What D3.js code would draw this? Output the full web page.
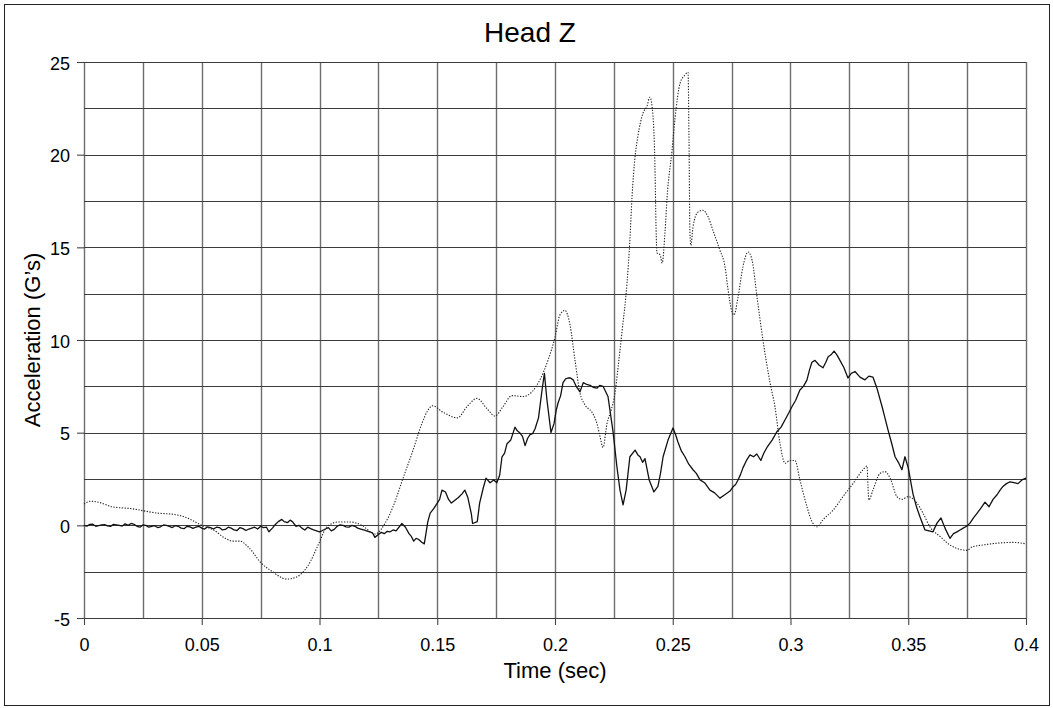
<!DOCTYPE html>
<html>
<head>
<meta charset="utf-8">
<script src="https://cdn.jsdelivr.net/npm/d3@7"></script>
<style>
  html, body { margin: 0; padding: 0; background: #fff; }
  svg { display: block; }
  text { font-family: "Liberation Sans", Arial, Helvetica, sans-serif; fill: #000; }
</style>
</head>
<body>
<svg id="chart" width="1053" height="708"></svg>
<script>
// ---------------- data ----------------
const chartTitle = "Head Z";
const xAxisTitle = "Time (sec)";
const yAxisTitle = "Acceleration (G\u2019s)";

const xTickValues = [0, 0.05, 0.1, 0.15, 0.2, 0.25, 0.3, 0.35, 0.4];
const xTickLabels = ["0", "0.05", "0.1", "0.15", "0.2", "0.25", "0.3", "0.35", "0.4"];
const yTickValues = [-5, 0, 5, 10, 15, 20, 25];
const yTickLabels = ["-5", "0", "5", "10", "15", "20", "25"];
const xGridValues = [0, 0.025, 0.05, 0.075, 0.1, 0.125, 0.15, 0.175, 0.2, 0.225, 0.25, 0.275, 0.3, 0.325, 0.35, 0.375, 0.4];
const yGridValues = [-5, -2.5, 0, 2.5, 5, 7.5, 10, 12.5, 15, 17.5, 20, 22.5, 25];

// solid trace: [time (s), acceleration (G)]
const solidSeries = [
  [0,0.0],[0.00125,-0.04],[0.0025,0.05],[0.00375,0.06],[0.005,-0.05],[0.00625,-0.02],[0.0075,0.02],[0.00875,0.04],
  [0.01,-0.03],[0.01125,-0.06],[0.0125,0.05],[0.01375,0.03],[0.015,0.0],[0.01625,-0.04],[0.0175,0.08],[0.01875,0.0],
  [0.02,0.1],[0.02125,0.05],[0.0225,-0.05],[0.02375,-0.1],[0.025,0.02],[0.02625,0.0],[0.0275,-0.1],[0.02875,-0.05],
  [0.03,-0.02],[0.03125,-0.12],[0.0325,-0.08],[0.03375,0.02],[0.035,0.0],[0.03625,-0.06],[0.0375,-0.12],[0.03875,-0.02],
  [0.04,-0.05],[0.04125,-0.15],[0.0425,-0.18],[0.04375,-0.05],[0.045,-0.08],[0.04625,-0.16],[0.0475,-0.1],[0.04875,-0.05],
  [0.05,-0.15],[0.05125,-0.2],[0.0525,-0.08],[0.05375,-0.12],[0.055,-0.2],[0.05625,-0.1],[0.0575,-0.12],[0.05875,-0.25],
  [0.06,-0.22],[0.06125,-0.1],[0.0625,-0.15],[0.06375,-0.25],[0.065,-0.28],[0.06625,-0.12],[0.0675,-0.18],[0.06875,-0.28],
  [0.07,-0.2],[0.07125,-0.15],[0.0725,-0.1],[0.07375,-0.2],[0.075,-0.05],[0.07625,-0.12],[0.0775,-0.1],[0.0785,-0.35],
  [0.08,-0.15],[0.08125,0.05],[0.0825,0.2],[0.084,0.32],[0.085,0.2],[0.0865,0.15],[0.0875,0.28],[0.0885,0.2],
  [0.09,-0.05],[0.09125,0.0],[0.0925,-0.15],[0.09375,-0.25],[0.095,-0.1],[0.09625,-0.18],[0.0975,-0.25],[0.09875,-0.3],
  [0.1,-0.35],[0.10125,-0.28],[0.1025,-0.2],[0.10375,-0.12],[0.105,-0.3],[0.10625,-0.22],[0.1075,-0.05],[0.10875,0.02],
  [0.11,0.0],[0.11125,-0.08],[0.1125,-0.1],[0.11375,0.0],[0.115,-0.05],[0.11625,-0.15],[0.1175,-0.2],[0.11875,-0.25],
  [0.12,-0.3],[0.12125,-0.35],[0.1225,-0.4],[0.1235,-0.65],[0.125,-0.5],[0.12625,-0.38],[0.1275,-0.45],[0.12875,-0.32],
  [0.13,-0.35],[0.13125,-0.25],[0.1325,-0.3],[0.135,0.1],[0.1365,-0.1],[0.138,-0.45],[0.139,-0.6],[0.14,-0.85],
  [0.141,-0.7],[0.142,-0.75],[0.1433,-0.9],[0.1445,-1.0],[0.146,0.2],[0.147,0.66],[0.1485,0.9],[0.15,1.2],
  [0.151,1.4],[0.152,1.9],[0.1535,1.8],[0.1548,1.4],[0.156,1.2],[0.1575,1.35],[0.159,1.5],[0.1605,1.7],
  [0.1617,1.9],[0.163,1.5],[0.1645,0.6],[0.165,0.1],[0.167,0.2],[0.168,1.2],[0.1695,2.0],[0.1707,2.55],
  [0.1724,2.3],[0.174,2.45],[0.1753,2.3],[0.1765,2.7],[0.1775,3.7],[0.1786,3.9],[0.1796,4.4],[0.1812,4.6],
  [0.183,5.3],[0.184,5.1],[0.185,5.0],[0.1862,4.8],[0.1873,4.3],[0.1884,4.7],[0.1894,4.9],[0.1905,4.95],
  [0.1915,5.2],[0.193,5.8],[0.1945,7.3],[0.1955,8.2],[0.1966,6.75],[0.1983,5.0],[0.1996,5.5],[0.2005,6.2],
  [0.2013,6.6],[0.2024,7.0],[0.2034,7.7],[0.2045,7.9],[0.2055,7.95],[0.2066,7.95],[0.2077,7.85],[0.209,7.5],
  [0.2106,7.2],[0.212,7.7],[0.2135,7.6],[0.2149,7.55],[0.2162,7.45],[0.2178,7.4],[0.219,7.55],[0.2204,7.5],
  [0.2225,6.95],[0.2246,5.1],[0.2263,3.15],[0.2276,1.9],[0.2289,1.1],[0.2302,1.9],[0.2318,3.7],[0.234,4.06],
  [0.2352,3.8],[0.2361,3.7],[0.2372,3.4],[0.2382,3.6],[0.24,2.45],[0.242,1.8],[0.2437,2.1],[0.2448,2.8],
  [0.2459,3.7],[0.248,4.6],[0.2501,5.25],[0.2512,4.9],[0.2522,4.5],[0.2537,4.0],[0.2552,3.7],[0.2568,3.3],
  [0.2586,3.0],[0.26,2.8],[0.2616,2.45],[0.2635,2.3],[0.2658,1.9],[0.2678,1.75],[0.27,1.47],[0.2715,1.6],
  [0.273,1.73],[0.2743,1.85],[0.2756,2.08],[0.2767,2.2],[0.2777,2.45],[0.2788,2.75],[0.2798,3.1],[0.2813,3.5],
  [0.2828,3.8],[0.2843,3.7],[0.2857,3.85],[0.2874,3.5],[0.2887,3.9],[0.29,4.2],[0.2922,4.6],[0.2942,5.05],
  [0.296,5.3],[0.2977,5.7],[0.2992,6.05],[0.3006,6.4],[0.3022,6.75],[0.304,7.3],[0.3055,7.5],[0.307,7.85],
  [0.3081,8.4],[0.3091,8.8],[0.3104,8.9],[0.3121,8.65],[0.3138,8.5],[0.315,8.8],[0.316,9.1],[0.3172,9.2],
  [0.3185,9.4],[0.3197,9.2],[0.321,8.9],[0.3227,8.5],[0.3244,7.95],[0.3258,8.2],[0.3274,8.3],[0.3295,8.0],
  [0.3316,7.85],[0.3333,8.05],[0.335,8.0],[0.3367,7.4],[0.3389,6.4],[0.3401,5.8],[0.3414,5.15],[0.343,4.4],
  [0.3444,3.7],[0.3458,3.4],[0.3473,3.0],[0.3486,3.7],[0.35,3.1],[0.352,1.7],[0.3535,1.0],[0.355,0.45],
  [0.3571,-0.25],[0.3588,-0.3],[0.3605,-0.35],[0.3622,0.12],[0.3639,0.4],[0.3656,-0.15],[0.3677,-0.7],[0.3692,-0.45],
  [0.3707,-0.35],[0.372,-0.25],[0.3733,-0.15],[0.3748,-0.05],[0.3762,0.12],[0.3777,0.4],[0.3792,0.65],[0.381,0.95],
  [0.3826,1.25],[0.3843,1.0],[0.386,1.4],[0.3877,1.65],[0.389,1.9],[0.3902,2.1],[0.3917,2.25],[0.3932,2.35],
  [0.3949,2.3],[0.3966,2.25],[0.3983,2.45],[0.4,2.55]
];

// dotted trace: [time (s), acceleration (G)]
const dottedSeries = [
  [0,1.15],[0.003,1.3],[0.006,1.25],[0.012,1.0],[0.02,0.9],[0.03,0.68],[0.04,0.55],[0.045,0.33],
  [0.05,0.0],[0.055,-0.25],[0.06,-0.7],[0.063,-0.85],[0.066,-0.85],[0.07,-1.2],[0.075,-2.0],[0.08,-2.5],
  [0.086,-2.9],[0.09,-2.8],[0.095,-2.2],[0.1,-0.9],[0.103,-0.1],[0.108,0.18],[0.113,0.18],[0.118,0.0],
  [0.1236,-0.47],[0.1278,0.1],[0.1312,1.0],[0.1355,2.55],[0.1397,4.05],[0.1435,5.5],[0.146,6.2],[0.148,6.45],
  [0.1525,6.1],[0.1586,5.8],[0.1626,6.4],[0.1669,6.85],[0.1711,6.3],[0.1745,5.9],[0.1779,6.4],[0.1817,7.0],
  [0.1864,6.95],[0.1902,7.2],[0.1936,7.85],[0.197,8.9],[0.2,10.15],[0.2021,11.35],[0.2042,11.6],[0.2064,10.8],
  [0.2085,8.9],[0.2106,7.15],[0.2127,6.5],[0.2157,6.1],[0.2178,5.5],[0.2191,4.8],[0.2204,4.2],[0.2221,5.5],
  [0.2238,6.2],[0.2255,7.15],[0.2268,8.55],[0.2285,10.5],[0.2306,13.1],[0.2318,15.4],[0.2327,17.7],[0.234,19.9],
  [0.2352,21.0],[0.2374,22.25],[0.239,22.6],[0.2403,23.1],[0.2416,22.1],[0.2425,19.0],[0.2429,16.1],[0.2433,14.7],
  [0.2446,14.6],[0.2455,14.15],[0.2467,15.8],[0.2476,17.7],[0.2497,20.25],[0.251,22.0],[0.2531,23.85],[0.2552,24.3],
  [0.2565,24.45],[0.2569,20.8],[0.2573,15.8],[0.2577,15.1],[0.2586,16.1],[0.2607,16.9],[0.2628,17.0],[0.265,16.65],
  [0.2671,15.9],[0.27,14.85],[0.2722,13.95],[0.2735,12.7],[0.2752,11.5],[0.276,11.35],[0.2777,12.3],[0.2798,13.95],
  [0.282,14.75],[0.2837,14.3],[0.2858,12.3],[0.2883,10.0],[0.2913,7.7],[0.2934,6.4],[0.2955,4.45],[0.2977,3.35],
  [0.2998,3.5],[0.3019,3.5],[0.304,2.45],[0.307,1.0],[0.3091,0.2],[0.3113,-0.08],[0.3138,0.3],[0.3181,0.82],
  [0.3223,1.55],[0.3265,2.25],[0.3308,3.0],[0.3325,3.2],[0.3329,2.1],[0.3333,1.37],[0.335,1.9],[0.338,2.8],
  [0.3401,2.9],[0.3423,2.55],[0.3452,1.55],[0.3473,1.4],[0.35,1.55],[0.3537,1.2],[0.3563,0.65],[0.3592,-0.08],
  [0.3635,-0.6],[0.3677,-1.06],[0.372,-1.3],[0.375,-1.35],[0.3771,-1.17],[0.3818,-1.06],[0.389,-0.95],[0.3945,-0.92],
  [0.4,-1.0]
];

// ---------------- layout ----------------
const plot = { left: 84, right: 1026, top: 62, bottom: 618 };

const svg = d3.select("#chart");

// outer frame
svg.append("rect")
  .attr("x", 4.5).attr("y", 4.5)
  .attr("width", 1045).attr("height", 701)
  .attr("fill", "#fff").attr("stroke", "#222").attr("stroke-width", 1);

const x = d3.scaleLinear().domain([0, 0.4]).range([plot.left, plot.right]);
const y = d3.scaleLinear().domain([-5, 25]).range([plot.bottom, plot.top]);

// grid
const grid = svg.append("g");
grid.selectAll("line.v").data(xGridValues).enter().append("line")
  .attr("class", "v")
  .attr("x1", d => Math.round(x(d)) + 0.5).attr("x2", d => Math.round(x(d)) + 0.5)
  .attr("y1", plot.top).attr("y2", plot.bottom)
  .attr("stroke", "#6e6e6e").attr("stroke-width", 1.4);
grid.selectAll("line.h").data(yGridValues).enter().append("line")
  .attr("class", "h")
  .attr("x1", plot.left).attr("x2", plot.right)
  .attr("y1", d => Math.round(y(d)) + 0.5).attr("y2", d => Math.round(y(d)) + 0.5)
  .attr("stroke", "#3c3c3c").attr("stroke-width", 1.1);

// axes
const xAxis = d3.axisBottom(x)
  .tickValues(xTickValues)
  .tickFormat((d, i) => xTickLabels[i])
  .tickSize(7).tickPadding(13);
const gx = svg.append("g").attr("transform", `translate(0,${plot.bottom})`).call(xAxis);
gx.select(".domain").remove();
gx.selectAll(".tick line").attr("stroke", "#444").attr("stroke-width", 1.1);
gx.selectAll(".tick text").style("font-size", "18px").style("font-family", "'Liberation Sans', Arial, sans-serif").attr("fill", "#000");

const yAxis = d3.axisLeft(y)
  .tickValues(yTickValues)
  .tickFormat((d, i) => yTickLabels[i])
  .tickSize(7).tickPadding(7);
const gy = svg.append("g").attr("transform", `translate(${plot.left},0)`).call(yAxis);
gy.select(".domain").remove();
gy.selectAll(".tick line").attr("stroke", "#444").attr("stroke-width", 1.1);
gy.selectAll(".tick text").style("font-size", "18px").style("font-family", "'Liberation Sans', Arial, sans-serif").attr("fill", "#000").attr("dy", "0.4em");

// series
const lineLinear = d3.line().x(d => x(d[0])).y(d => y(d[1]));
const lineSmooth = d3.line().x(d => x(d[0])).y(d => y(d[1])).curve(d3.curveMonotoneX);

svg.append("path").datum(dottedSeries)
  .attr("d", lineSmooth)
  .attr("fill", "none").attr("stroke", "#222").attr("stroke-width", 1.1)
  .attr("stroke-dasharray", "1.3 1.5");

svg.append("path").datum(solidSeries)
  .attr("d", lineLinear)
  .attr("fill", "none").attr("stroke", "#111").attr("stroke-width", 1.3)
  .attr("stroke-linejoin", "round");

// titles
svg.append("text")
  .attr("x", 530).attr("y", 42)
  .attr("text-anchor", "middle")
  .style("font-size", "28px")
  .text(chartTitle);

svg.append("text")
  .attr("x", (plot.left + plot.right) / 2).attr("y", 678)
  .attr("text-anchor", "middle")
  .style("font-size", "22px")
  .text(xAxisTitle);

svg.append("text")
  .attr("transform", `translate(40,${(plot.top + plot.bottom) / 2}) rotate(-90)`)
  .attr("text-anchor", "middle")
  .style("font-size", "22px")
  .text(yAxisTitle);
</script>
</body>
</html>
